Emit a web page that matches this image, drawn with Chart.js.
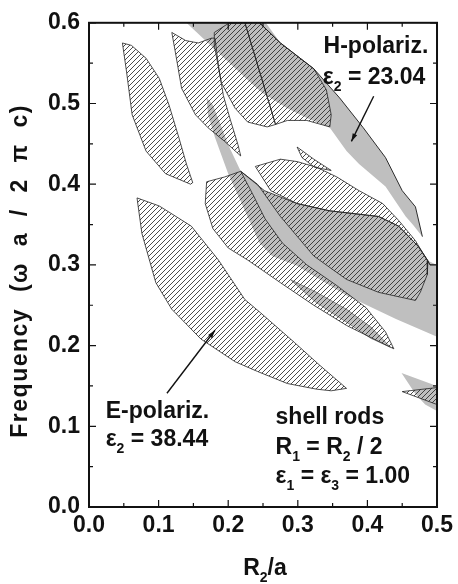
<!DOCTYPE html>
<html>
<head>
<meta charset="utf-8">
<script src="https://cdn.jsdelivr.net/npm/chart.js@4.4.0/dist/chart.umd.min.js"></script>
<style>
  html, body { margin: 0; padding: 0; background: #fff; }
  #wrap { width: 458px; height: 584px; }
</style>
</head>
<body>
<div id="wrap"><canvas id="c" width="458" height="584"></canvas></div>
<script>
// Photonic band-gap map of shell rods: gap edges as (R2/a, frequency) outlines.

// E-polarization gaps (hatched), each a closed outline
const eGapA = [[0.048,0.575],[0.061,0.572],[0.082,0.556],[0.101,0.531],[0.115,0.498],[0.129,0.458],[0.140,0.425],[0.149,0.402],[0.146,0.400],[0.110,0.413],[0.082,0.441],[0.062,0.486],[0.054,0.539],[0.048,0.575]];
const eGapB = [[0.119,0.588],[0.139,0.578],[0.157,0.575],[0.176,0.581],[0.181,0.581],[0.186,0.547],[0.193,0.510],[0.203,0.480],[0.214,0.449],[0.218,0.435],[0.195,0.453],[0.171,0.470],[0.153,0.486],[0.133,0.519],[0.125,0.559],[0.119,0.588]];
const eGapC = [[0.180,0.588],[0.200,0.599],[0.224,0.600],[0.268,0.474],[0.256,0.471],[0.228,0.477],[0.210,0.494],[0.190,0.526],[0.181,0.568],[0.180,0.588]];
const eGapD = [[0.224,0.600],[0.245,0.600],[0.275,0.575],[0.323,0.543],[0.341,0.517],[0.348,0.486],[0.346,0.471],[0.313,0.479],[0.285,0.479],[0.268,0.474],[0.224,0.600]];
const eGapU = [[0.239,0.422],[0.275,0.431],[0.299,0.428],[0.327,0.421],[0.356,0.409],[0.388,0.392],[0.422,0.376],[0.445,0.355],[0.469,0.330],[0.490,0.300],[0.487,0.305],[0.473,0.323],[0.445,0.348],[0.416,0.360],[0.346,0.367],[0.299,0.376],[0.261,0.392],[0.239,0.422]];
const eGapV = [[0.299,0.446],[0.323,0.431],[0.348,0.417],[0.324,0.421],[0.306,0.433],[0.299,0.446]];
const eGapX = [[0.218,0.416],[0.252,0.392],[0.299,0.376],[0.346,0.367],[0.416,0.360],[0.445,0.348],[0.473,0.323],[0.487,0.305],[0.486,0.288],[0.476,0.266],[0.469,0.256],[0.416,0.266],[0.370,0.282],[0.323,0.311],[0.275,0.360],[0.242,0.400],[0.218,0.416]];
const eGapY = [[0.169,0.403],[0.195,0.409],[0.218,0.416],[0.235,0.388],[0.253,0.357],[0.278,0.327],[0.313,0.300],[0.355,0.275],[0.398,0.247],[0.426,0.217],[0.438,0.196],[0.426,0.201],[0.370,0.225],[0.323,0.250],[0.275,0.278],[0.228,0.306],[0.200,0.321],[0.178,0.345],[0.167,0.376],[0.169,0.403]];
const eGapL = [[0.069,0.383],[0.101,0.373],[0.147,0.348],[0.186,0.306],[0.200,0.288],[0.224,0.257],[0.246,0.241],[0.295,0.204],[0.331,0.176],[0.370,0.147],[0.348,0.144],[0.327,0.146],[0.285,0.153],[0.242,0.168],[0.210,0.180],[0.161,0.208],[0.119,0.245],[0.096,0.278],[0.076,0.339],[0.069,0.383]];
const eGapF = [[0.450,0.143],[0.500,0.148],[0.500,0.127],[0.450,0.143]];

// H-polarization gaps (grey)
const hGap1 = [[0.140,0.600],[0.254,0.600],[0.275,0.575],[0.323,0.543],[0.360,0.507],[0.394,0.470],[0.426,0.433],[0.450,0.392],[0.469,0.372],[0.479,0.335],[0.466,0.349],[0.455,0.360],[0.426,0.397],[0.388,0.425],[0.370,0.441],[0.346,0.470],[0.313,0.482],[0.285,0.494],[0.249,0.513],[0.232,0.526],[0.186,0.563],[0.140,0.600]];
const hGap1Edge = [[0.245,0.600],[0.275,0.575],[0.323,0.543],[0.360,0.507],[0.394,0.470],[0.426,0.433],[0.450,0.392],[0.469,0.372],[0.479,0.335]];
const hGap2 = [[0.169,0.507],[0.178,0.498],[0.188,0.476],[0.200,0.449],[0.218,0.416],[0.252,0.392],[0.299,0.376],[0.346,0.367],[0.416,0.360],[0.445,0.348],[0.473,0.323],[0.487,0.305],[0.500,0.300],[0.500,0.211],[0.441,0.233],[0.370,0.262],[0.299,0.299],[0.263,0.311],[0.245,0.327],[0.224,0.367],[0.200,0.413],[0.181,0.458],[0.171,0.486],[0.169,0.507]];
const hGap3 = [[0.289,0.282],[0.327,0.266],[0.370,0.245],[0.405,0.223],[0.433,0.198],[0.405,0.209],[0.370,0.229],[0.327,0.253],[0.289,0.282]];
const hGap4 = [[0.449,0.166],[0.493,0.152],[0.500,0.149],[0.500,0.119],[0.483,0.127],[0.469,0.140],[0.449,0.166]];

// axis ranges and tick steps
const xRange = [0, 0.5];
const yRange = [0, 0.6];
const minorStep = 0.05;

const FONT = '"Liberation Sans", Arial, Helvetica, sans-serif';
const canvas = document.getElementById('c');
const ctx = canvas.getContext('2d');

// diagonal hatch used for the E-polarization gaps
function makeHatch() {
  const t = document.createElement('canvas');
  t.width = 5; t.height = 5;
  const g = t.getContext('2d');
  g.strokeStyle = '#2b2b2b';
  g.lineWidth = 0.85;
  g.beginPath(); g.moveTo(-1, 6); g.lineTo(6, -1); g.stroke();
  g.beginPath(); g.moveTo(-1, 1); g.lineTo(1, -1); g.stroke();
  g.beginPath(); g.moveTo(4, 6); g.lineTo(6, 4); g.stroke();
  return ctx.createPattern(t, 'repeat');
}
const hatch = makeHatch();
const GREY = '#bfbfbf';

const pts = arr => arr.map(([x, y]) => ({x, y}));

function region(arr, fillStyle, border, bw) {
  return {
    data: pts(arr), showLine: true, fill: 'shape',
    backgroundColor: fillStyle, borderColor: border, borderWidth: bw,
    pointRadius: 0, tension: 0
  };
}

const datasets = [
  // edge lines on top
  {data: pts(hGap1Edge), showLine: true, fill: false, borderColor: '#1a1a1a', borderWidth: 0.9, pointRadius: 0, tension: 0},
  // E-polarization (hatched)
  region(eGapA, hatch, '#222', 0.8),
  region(eGapB, hatch, '#222', 0.8),
  region(eGapC, hatch, '#222', 0.8),
  region(eGapD, hatch, '#222', 0.8),
  region(eGapU, hatch, '#222', 0.8),
  region(eGapV, hatch, '#222', 0.8),
  region(eGapX, hatch, '#222', 0.8),
  region(eGapY, hatch, '#222', 0.8),
  region(eGapL, hatch, '#222', 0.8),
  region(eGapF, hatch, '#222', 0.8),
  // H-polarization (grey)
  region(hGap3, GREY, '#555', 0.6),
  region(hGap4, GREY, GREY, 0),
  region(hGap2, GREY, GREY, 0),
  region(hGap1, GREY, GREY, 0)
];

const isMajor = v => Math.abs(v * 10 - Math.round(v * 10)) < 1e-6;

// frame on all four sides with inward ticks
const framePlugin = {
  id: 'frame',
  afterDatasetsDraw(chart) {
    const c = chart.ctx;
    const {left, right, top, bottom} = chart.chartArea;
    const xs = chart.scales.x, ys = chart.scales.y;
    c.save();
    c.strokeStyle = '#111';
    c.lineWidth = 1.2;
    xs.ticks.forEach(t => {
      const p = xs.getPixelForValue(t.value);
      const len = isMajor(t.value) ? 7 : 4;
      c.beginPath();
      c.moveTo(p, bottom); c.lineTo(p, bottom - len);
      c.moveTo(p, top); c.lineTo(p, top + len);
      c.stroke();
    });
    ys.ticks.forEach(t => {
      const p = ys.getPixelForValue(t.value);
      const len = isMajor(t.value) ? 7 : 4;
      c.beginPath();
      c.moveTo(left, p); c.lineTo(left + len, p);
      c.moveTo(right, p); c.lineTo(right - len, p);
      c.stroke();
    });
    c.lineWidth = 2;
    c.strokeRect(left, top, right - left, bottom - top);
    c.restore();
  }
};

// text runs with subscripts: [text, isSub]
function drawRuns(c, runs, x, y, size) {
  let cx = x;
  runs.forEach(([txt, sub]) => {
    c.font = 'bold ' + (sub ? Math.round(size * 0.62) : size) + 'px ' + FONT;
    c.fillText(txt, cx, sub ? y + Math.round(size * 0.3) : y);
    cx += c.measureText(txt).width;
  });
  return cx - x;
}
function runsWidth(c, runs, size) {
  let w = 0;
  runs.forEach(([txt, sub]) => {
    c.font = 'bold ' + (sub ? Math.round(size * 0.62) : size) + 'px ' + FONT;
    w += c.measureText(txt).width;
  });
  return w;
}

const notes = [
  {at: [0.337, 0.562], runs: [['H-polariz.', false]]},
  {at: [0.336, 0.524], runs: [['ε', false], ['2', true], [' = 23.04', false]]},
  {at: [0.024, 0.110], runs: [['E-polariz.', false]]},
  {at: [0.024, 0.075], runs: [['ε', false], ['2', true], [' = 38.44', false]]},
  {at: [0.268, 0.103], runs: [['shell rods', false]]},
  {at: [0.268, 0.066], runs: [['R', false], ['1', true], [' = R', false], ['2', true], [' / 2', false]]},
  {at: [0.268, 0.030], runs: [['ε', false], ['1', true], [' = ε', false], ['3', true], [' = 1.00', false]]}
];
const arrows = [
  {from: [0.409, 0.509], to: [0.377, 0.453]},
  {from: [0.112, 0.141], to: [0.181, 0.219]}
];

const notePlugin = {
  id: 'notes',
  afterDraw(chart) {
    const c = chart.ctx;
    const xs = chart.scales.x, ys = chart.scales.y;
    const {left, right, top, bottom} = chart.chartArea;
    c.save();
    c.fillStyle = '#111';
    c.textBaseline = 'alphabetic';
    c.textAlign = 'left';
    notes.forEach(n => {
      drawRuns(c, n.runs, xs.getPixelForValue(n.at[0]), ys.getPixelForValue(n.at[1]), 23);
    });
    c.strokeStyle = '#111';
    c.lineWidth = 1.4;
    arrows.forEach(a => {
      const x0 = xs.getPixelForValue(a.from[0]), y0 = ys.getPixelForValue(a.from[1]);
      const x1 = xs.getPixelForValue(a.to[0]), y1 = ys.getPixelForValue(a.to[1]);
      const ang = Math.atan2(y1 - y0, x1 - x0);
      c.beginPath(); c.moveTo(x0, y0); c.lineTo(x1, y1); c.stroke();
      c.beginPath();
      c.moveTo(x1, y1);
      c.lineTo(x1 - 8 * Math.cos(ang) + 2.5 * Math.sin(ang), y1 - 8 * Math.sin(ang) - 2.5 * Math.cos(ang));
      c.lineTo(x1 - 8 * Math.cos(ang) - 2.5 * Math.sin(ang), y1 - 8 * Math.sin(ang) + 2.5 * Math.cos(ang));
      c.closePath(); c.fill();
    });
    // x-axis title R2/a
    const titleRuns = [['R', false], ['2', true], ['/a', false]];
    const w = runsWidth(c, titleRuns, 23);
    const cx = (left + right) / 2;
    drawRuns(c, titleRuns, cx - w / 2 + 2, 575, 23);
    // y-axis title, rotated, with open spacing
    c.save();
    c.translate(21, (top + bottom) / 2 + 6);
    c.rotate(-Math.PI / 2);
    c.font = 'bold 23px ' + FONT;
    c.textAlign = 'center';
    c.textBaseline = 'middle';
    if ('letterSpacing' in c) c.letterSpacing = '1.5px';
    c.fillText('Frequency  (ω  a  /  2  π  c)', 0, 0);
    c.restore();
    c.restore();
  }
};

const tickFont = {family: FONT, size: 23, weight: 'bold'};

new Chart(ctx, {
  type: 'scatter',
  data: {datasets},
  options: {
    responsive: false,
    animation: false,
    layout: {padding: {left: 0, right: 16, top: 17, bottom: 0}},
    plugins: {legend: {display: false}, tooltip: {enabled: false}},
    elements: {point: {radius: 0}, line: {tension: 0}},
    scales: {
      x: {
        type: 'linear', min: xRange[0], max: xRange[1],
        afterFit(s) { s.height = 77; },
        grid: {display: false, drawTicks: false},
        border: {display: false},
        ticks: {
          stepSize: minorStep, autoSkip: false, maxRotation: 0, padding: 5,
          color: '#111', font: tickFont,
          callback: v => isMajor(v) ? (Math.round(v * 10) / 10).toFixed(1) : ''
        }
      },
      y: {
        type: 'linear', min: yRange[0], max: yRange[1],
        afterFit(s) { s.width = 89; },
        grid: {display: false, drawTicks: false},
        border: {display: false},
        ticks: {
          stepSize: minorStep, autoSkip: false, padding: 9,
          color: '#111', font: tickFont,
          callback: v => isMajor(v) ? (Math.round(v * 10) / 10).toFixed(1) : ''
        }
      }
    }
  },
  plugins: [framePlugin, notePlugin]
});
</script>
</body>
</html>
